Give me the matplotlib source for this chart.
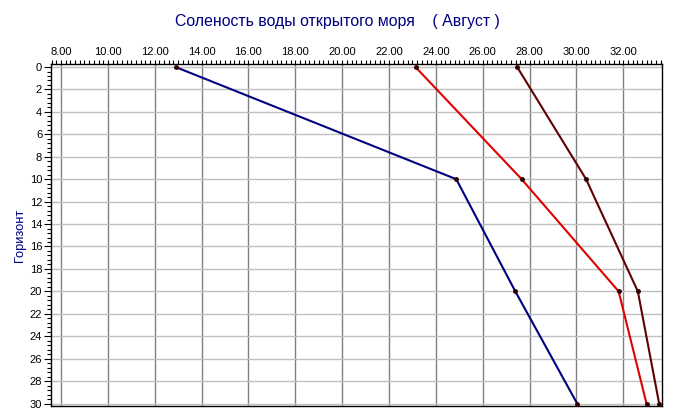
import matplotlib
matplotlib.use("Agg")
import matplotlib.pyplot as plt
from matplotlib.ticker import MultipleLocator, FormatStrFormatter

plt.rcParams['font.family'] = ['Liberation Sans', 'DejaVu Sans']

depth = [0, 10, 20, 30]
series_navy = [12.89, 24.87, 27.39, 30.03]
series_red = [23.13, 27.66, 31.80, 32.99]
series_brown = [27.47, 30.41, 32.62, 33.53]

title = "Соленость воды открытого моря    ( Август )"
ylabel = "Горизонт"

fig = plt.figure(figsize=(6.75, 4.19), dpi=100)
ax = fig.add_axes([50.5/675, 1-406/419, (661.5-50.5)/675, (406-64)/419])

for vals, col in [(series_navy, '#000080'), (series_red, '#e00000'), (series_brown, '#600000')]:
    ax.plot(vals, depth, color=col, lw=1.5, marker='o', ms=2.5,
            mfc='#300000', mec='#300000', zorder=3, clip_on=False)

ax.set_xlim(7.55, 33.63)
ax.set_ylim(30.22, -0.27)

ax.xaxis.tick_top()
ax.xaxis.set_major_locator(MultipleLocator(2))
ax.xaxis.set_minor_locator(MultipleLocator(0.2))
ax.xaxis.set_major_formatter(FormatStrFormatter('%.2f'))
ax.yaxis.set_major_locator(MultipleLocator(2))
ax.yaxis.set_minor_locator(MultipleLocator(0.4))

ax.tick_params(axis='x', which='major', direction='out', length=3, width=0.8, pad=2, labelsize=8)
ax.tick_params(axis='x', which='minor', direction='out', length=3, width=0.8)
ax.tick_params(axis='y', which='major', direction='out', length=5, width=0.8, pad=1, labelsize=8)
ax.tick_params(axis='y', which='minor', direction='out', length=3, width=0.8)

for x in range(8, 33, 2):
    ax.axvline(x, color='#808080', lw=1.0, zorder=1)
for y in range(0, 31, 2):
    ax.axhline(y, color='#c0c0c0', lw=1.0, zorder=1)

for s in ax.spines.values():
    s.set_color('black')
    s.set_linewidth(1.0)

fig.text(0.4998, 0.9475, title, ha='center', va='center', fontsize=11.4, color='#000080')
fig.text(0.0296, 0.439, ylabel, ha='center', va='center', rotation=90, fontsize=9.3, color='#000080')

fig.savefig('out.png', dpi=100)
